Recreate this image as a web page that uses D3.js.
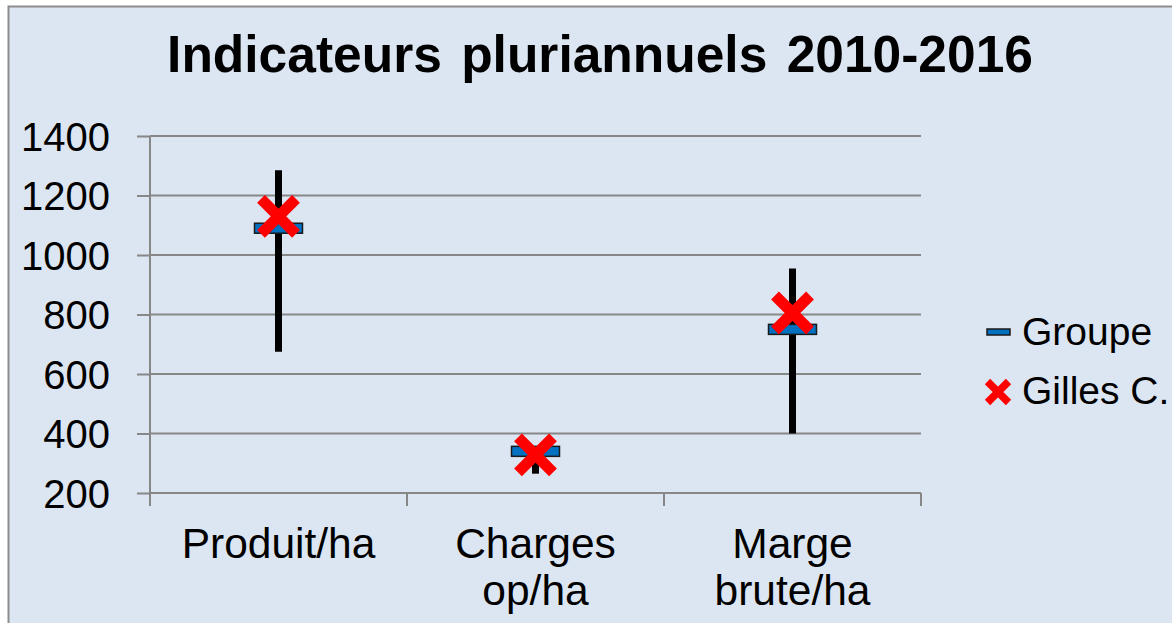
<!DOCTYPE html>
<html>
<head>
<meta charset="utf-8">
<script src="https://cdn.jsdelivr.net/npm/d3@7"></script>
<style>
  html, body { margin: 0; padding: 0; background: #ffffff; }
  svg { display: block; font-family: "Liberation Sans", Arial, sans-serif; }
</style>
</head>
<body>
<div id="chart"></div>
<script>
// Data
var categories = ["Produit/ha", "Charges op/ha", "Marge brute/ha"];
var categoryLines = [["Produit/ha"], ["Charges", "op/ha"], ["Marge", "brute/ha"]];
var groupeMin = [675, 265, 400];
var groupeMax = [1285, 355, 955];
var groupeMoy = [1090, 340, 750];
var gilles = [1130, 328, 805];
var yTicks = [200, 400, 600, 800, 1000, 1200, 1400];

var svgWidth = 1172;
var svgHeight = 623;

var margin = { top: 136, left: 150, right: 251, bottom: 130 };
var width = svgWidth - margin.left - margin.right;   // 771
var height = svgHeight - margin.top - margin.bottom; // 357

var svg = d3.select("#chart")
  .append("svg")
  .attr("width", svgWidth)
  .attr("height", svgHeight);

// chart background and frame
svg.append("rect")
  .attr("x", 8.5)
  .attr("y", 6.5)
  .attr("width", svgWidth + 10)
  .attr("height", svgHeight + 10)
  .attr("fill", "#dce6f2")
  .attr("stroke", "#8c8c8c")
  .attr("stroke-width", 2);

// title
svg.append("text")
  .attr("x", 600)
  .attr("y", 72)
  .attr("text-anchor", "middle")
  .attr("font-size", 51.5)
  .attr("font-weight", "bold")
  .attr("word-spacing", 5)
  .attr("fill", "#000")
  .text("Indicateurs pluriannuels 2010-2016");

var chartGroup = svg.append("g")
  .attr("transform", `translate(${margin.left}, ${margin.top})`);

// scales
var xScale = d3.scaleBand()
  .domain(categories)
  .range([0, width])
  .padding(0);

var yScale = d3.scaleLinear()
  .domain([200, 1400])
  .range([height, 0]);

// gridlines
chartGroup.append("g")
  .selectAll("line")
  .data(yTicks.slice(1))
  .enter()
  .append("line")
  .attr("x1", 0)
  .attr("x2", width)
  .attr("y1", d => yScale(d))
  .attr("y2", d => yScale(d))
  .attr("stroke", "#878787")
  .attr("stroke-width", 2);

// left axis
var leftAxis = d3.axisLeft(yScale)
  .tickValues(yTicks)
  .tickFormat(d3.format("d"))
  .tickSize(13)
  .tickPadding(27);
var yAxisG = chartGroup.append("g").call(leftAxis);
yAxisG.select(".domain").remove();
yAxisG.selectAll(".tick line").attr("stroke", "#878787").attr("stroke-width", 2);
yAxisG.selectAll(".tick text")
  .attr("font-size", 40)
  .attr("font-family", "Liberation Sans, Arial, sans-serif")
  .attr("fill", "#000")
  .attr("dy", "0.36em");

chartGroup.append("line")
  .attr("x1", 0).attr("x2", 0)
  .attr("y1", 0).attr("y2", height + 13)
  .attr("stroke", "#878787")
  .attr("stroke-width", 2);

// bottom axis
var boundaries = categories.map(c => xScale(c)).concat([width]);
chartGroup.append("line")
  .attr("x1", 0).attr("x2", width)
  .attr("y1", height).attr("y2", height)
  .attr("stroke", "#878787")
  .attr("stroke-width", 2);
chartGroup.append("g")
  .selectAll("line")
  .data(boundaries)
  .enter()
  .append("line")
  .attr("x1", d => d).attr("x2", d => d)
  .attr("y1", height).attr("y2", height + 13)
  .attr("stroke", "#878787")
  .attr("stroke-width", 2);

// category labels
var catLabels = chartGroup.append("g")
  .selectAll("text")
  .data(categories)
  .enter()
  .append("text")
  .attr("text-anchor", "middle")
  .attr("font-size", 42.5)
  .attr("fill", "#000")
  .attr("transform", d => `translate(${xScale(d) + xScale.bandwidth() / 2}, ${height + 65})`);

catLabels.selectAll("tspan")
  .data((d, i) => categoryLines[i])
  .enter()
  .append("tspan")
  .attr("x", 0)
  .attr("y", (d, i) => i * 47)
  .text(d => d);

var cx = i => xScale(categories[i]) + xScale.bandwidth() / 2;

// range lines (min-max)
chartGroup.append("g")
  .selectAll("line")
  .data(categories)
  .enter()
  .append("line")
  .attr("x1", (d, i) => cx(i))
  .attr("x2", (d, i) => cx(i))
  .attr("y1", (d, i) => yScale(groupeMax[i]))
  .attr("y2", (d, i) => yScale(groupeMin[i]))
  .attr("stroke", "#000")
  .attr("stroke-width", 7);

// Groupe markers
chartGroup.append("g")
  .selectAll("rect")
  .data(categories)
  .enter()
  .append("rect")
  .attr("x", (d, i) => cx(i) - 24)
  .attr("y", (d, i) => yScale(groupeMoy[i]) - 5)
  .attr("width", 48)
  .attr("height", 10)
  .attr("fill", "#0070c0")
  .attr("stroke", "#1a1a1a")
  .attr("stroke-width", 1.5);

// Gilles C. markers
function crossPath(s) {
  return `M${-s},${-s}L${s},${s}M${-s},${s}L${s},${-s}`;
}
chartGroup.append("g")
  .selectAll("path")
  .data(categories)
  .enter()
  .append("path")
  .attr("transform", (d, i) => `translate(${cx(i)}, ${yScale(gilles[i])})`)
  .attr("d", crossPath(17.5))
  .attr("stroke", "#ff0000")
  .attr("stroke-width", 11)
  .attr("fill", "none");

// legend
var legend = svg.append("g").attr("transform", "translate(987, 0)");
legend.append("rect")
  .attr("x", 0).attr("y", 329)
  .attr("width", 23).attr("height", 6)
  .attr("fill", "#0070c0")
  .attr("stroke", "#1a1a1a")
  .attr("stroke-width", 1.5);
legend.append("text")
  .attr("x", 35).attr("y", 345)
  .attr("font-size", 39)
  .attr("fill", "#000")
  .text("Groupe");
legend.append("path")
  .attr("transform", "translate(11, 392)")
  .attr("d", crossPath(10.5))
  .attr("stroke", "#ff0000")
  .attr("stroke-width", 7.5)
  .attr("fill", "none");
legend.append("text")
  .attr("x", 35).attr("y", 404)
  .attr("font-size", 39)
  .attr("fill", "#000")
  .text("Gilles C.");
</script>
</body>
</html>
